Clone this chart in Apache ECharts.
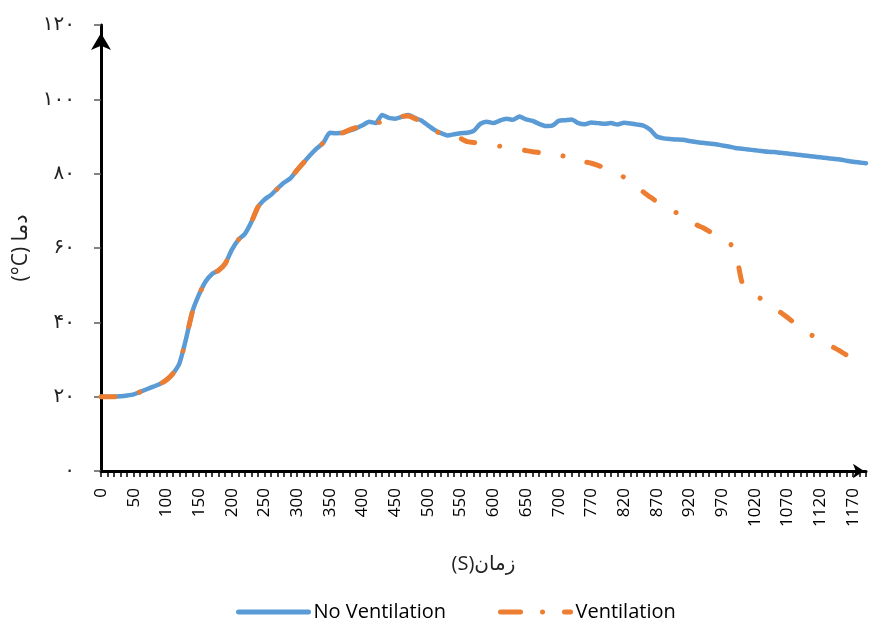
<!DOCTYPE html>
<html>
<head>
<meta charset="utf-8">
<title>دما - زمان</title>
<script src="https://cdn.jsdelivr.net/npm/echarts@6/dist/echarts.min.js"></script>
<style>
  html, body { margin: 0; padding: 0; background: #fff; }
  #chart { width: 869px; height: 619px; }
</style>
</head>
<body>
<div id="chart"></div>
<script>
// ----------------------------------------------------------------------
// data

// time steps, every 10 s (the sheet skips 710-720, so 700 -> 770 is 5 steps)
const times = [
  0, 10, 20, 30, 40, 50, 60, 70, 80, 90,
  100, 110, 120, 130, 140, 150, 160, 170, 180, 190,
  200, 210, 220, 230, 240, 250, 260, 270, 280, 290,
  300, 310, 320, 330, 340, 350, 360, 370, 380, 390,
  400, 410, 420, 430, 440, 450, 460, 470, 480, 490,
  500, 510, 520, 530, 540, 550, 560, 570, 580, 590,
  600, 610, 620, 630, 640, 650, 660, 670, 680, 690,
  700, 730, 740, 750, 760,
  770, 780, 790, 800, 810, 820, 830, 840, 850, 860,
  870, 880, 890, 900, 910, 920, 930, 940, 950, 960,
  970, 980, 990, 1000, 1010, 1020, 1030, 1040, 1050, 1060,
  1070, 1080, 1090, 1100, 1110, 1120, 1130, 1140, 1150, 1160,
  1170, 1180, 1190
];

const noVentilation = [
  20, 20, 20, 20.1, 20.3, 20.6, 21.3, 22, 22.7, 23.4,
  24.5, 26.2, 29, 35.5, 43, 47.5, 51, 53, 54, 55.8,
  59.5, 62.2, 63.8, 67, 71, 73, 74.3, 76, 77.6, 78.8,
  81, 83, 85, 86.8, 88.3, 91, 90.9, 91, 91.6, 92.2,
  93, 94, 93.6, 95.8, 95, 94.8, 95.3, 95.8, 95, 94.3,
  93, 91.8, 90.9, 90.3, 90.6, 90.9, 91, 91.5, 93.4, 94,
  93.6, 94.3, 94.8, 94.5, 95.4, 94.6, 94.2, 93.4, 92.8, 92.9,
  94.2, 94.4, 94.6, 93.6, 93.3,
  93.8, 93.6, 93.4, 93.6, 93.2, 93.7, 93.5, 93.2, 92.9, 91.8,
  90, 89.5, 89.3, 89.2, 89.1, 88.8, 88.5, 88.3, 88.1, 87.9,
  87.6, 87.3, 86.9, 86.7, 86.5, 86.3, 86.1, 85.9, 85.8, 85.6,
  85.4, 85.2, 85, 84.8, 84.6, 84.4, 84.2, 84, 83.8, 83.5,
  83.2, 83, 82.8
];

const ventilation = [
  20, 20, 20, 20.1, 20.3, 20.6, 21.3, 22, 22.7, 23.4,
  24.5, 26.2, 29, 35.5, 43, 47.5, 51, 53, 54, 55.8,
  59.5, 62.2, 63.8, 67, 71, 73, 74.3, 76, 77.6, 78.8,
  81, 83, 85, 86.8, 88.3, 90.4, 90.6, 91, 91.8, 92.4,
  93, 93.8, 93.6, 94, 94.8, 95, 95.4, 95.5, 94.8, 94,
  92.8, 91.6, 90.8, 90.5, 90.4, 89.5, 88.6, 88.4, 88.1, 87.9,
  87.7, 87.4, 87.2, 86.9, 86.6, 86.2, 85.9, 85.7, 85.5, 85.3,
  85.1, 84.6, 84.1, 83.7, 83.2,
  82.8, 82.2, 81.6, 81, 80.2, 79, 77.5, 76.3, 75, 73.7,
  72.5, 71.5, 70.5, 69.5, 68.5, 67.4, 66.3, 65.5, 64.5, 63.5,
  62.6, 61.5, 59.5, 51, 48.6, 47.3, 46.3, 45.3, 43.8, 42.6,
  41.3, 39.9, 38.6, 37.4, 36.2, 35.3, 34.2, 33.3, 32.3, 31.2,
  30.2
];

// y tick labels, Persian digits as in the original
const yTickLabels = ['۰', '۲۰', '۴۰', '۶۰', '۸۰', '۱۰۰', '۱۲۰'];

const seriesNames = ['No Ventilation', 'Ventilation'];

// ----------------------------------------------------------------------

const BLUE = '#5B9BD5';
const ORANGE = '#ED7D31';
const FONT = '"Open Sans", "DejaVu Sans", sans-serif';
const DASH_DOT = [14, 25, 0.01, 25];

const chart = echarts.init(document.getElementById('chart'), null, { renderer: 'canvas' });

const option = {
  animation: false,
  backgroundColor: '#ffffff',
  grid: {
    left: 101,
    right: 3,
    top: 25,
    bottom: 148,
    containLabel: false,
    outerBoundsMode: 'none',
  },
  legend: {
    data: [
      { name: seriesNames[0], lineStyle: { width: 5, cap: 'round' } },
      { name: seriesNames[1], lineStyle: { width: 5, cap: 'round', type: [20, 22, 0.01, 22] } },
    ],
    left: 231,
    top: 597,
    itemWidth: 70,
    itemHeight: 14,
    itemGap: 52,
    itemStyle: { opacity: 0 },
    textStyle: { fontFamily: FONT, fontSize: 20, color: '#000' },
  },
  xAxis: {
    type: 'category',
    data: times,
    boundaryGap: false,
    name: '(S)زمان',
    nameLocation: 'middle',
    nameGap: 83,
    nameTextStyle: { fontFamily: FONT, fontSize: 20, color: '#222' },
    axisLine: {
      lineStyle: { color: '#000', width: 3 },
      symbol: ['none', 'arrow'],
      symbolSize: [11, 11],
      symbolOffset: [0, -2],
    },
    axisTick: {
      interval: 0,
      length: 6,
      lineStyle: { color: '#000', width: 1.5 },
    },
    axisLabel: {
      interval: 4,
      rotate: 90,
      margin: 17,
      fontFamily: FONT,
      fontSize: 17,
      color: '#000',
    },
    splitLine: { show: false },
  },
  yAxis: {
    type: 'value',
    min: 0,
    max: 120,
    interval: 20,
    name: '(°C) دما',
    nameLocation: 'middle',
    nameRotate: 90,
    nameGap: 68,
    nameTextStyle: { fontFamily: FONT, fontSize: 21, color: '#222' },
    axisLine: {
      show: true,
      lineStyle: { color: '#000', width: 3 },
      symbol: ['none', 'arrow'],
      symbolSize: [15, 17],
      symbolOffset: [0, -8],
    },
    axisTick: {
      show: true,
      length: 7,
      lineStyle: { color: '#595959', width: 1.5 },
    },
    axisLabel: {
      margin: 26,
      fontFamily: '"DejaVu Sans", sans-serif',
      fontSize: 20,
      color: '#222',
      formatter: (v) => yTickLabels[Math.round(v / 20)],
    },
    splitLine: { show: false },
  },
  series: [
    {
      name: seriesNames[0],
      type: 'line',
      data: noVentilation,
      symbol: 'none',
      smooth: 0.2,
      color: BLUE,
      lineStyle: { color: BLUE, width: 4.5, cap: 'round', join: 'round' },
    },
    {
      name: seriesNames[1],
      type: 'line',
      data: ventilation,
      symbol: 'none',
      smooth: 0.2,
      color: ORANGE,
      lineStyle: {
        color: ORANGE,
        width: 5,
        type: DASH_DOT,
        cap: 'round',
        join: 'round',
      },
    },
  ],
};

chart.setOption(option);
</script>
</body>
</html>
